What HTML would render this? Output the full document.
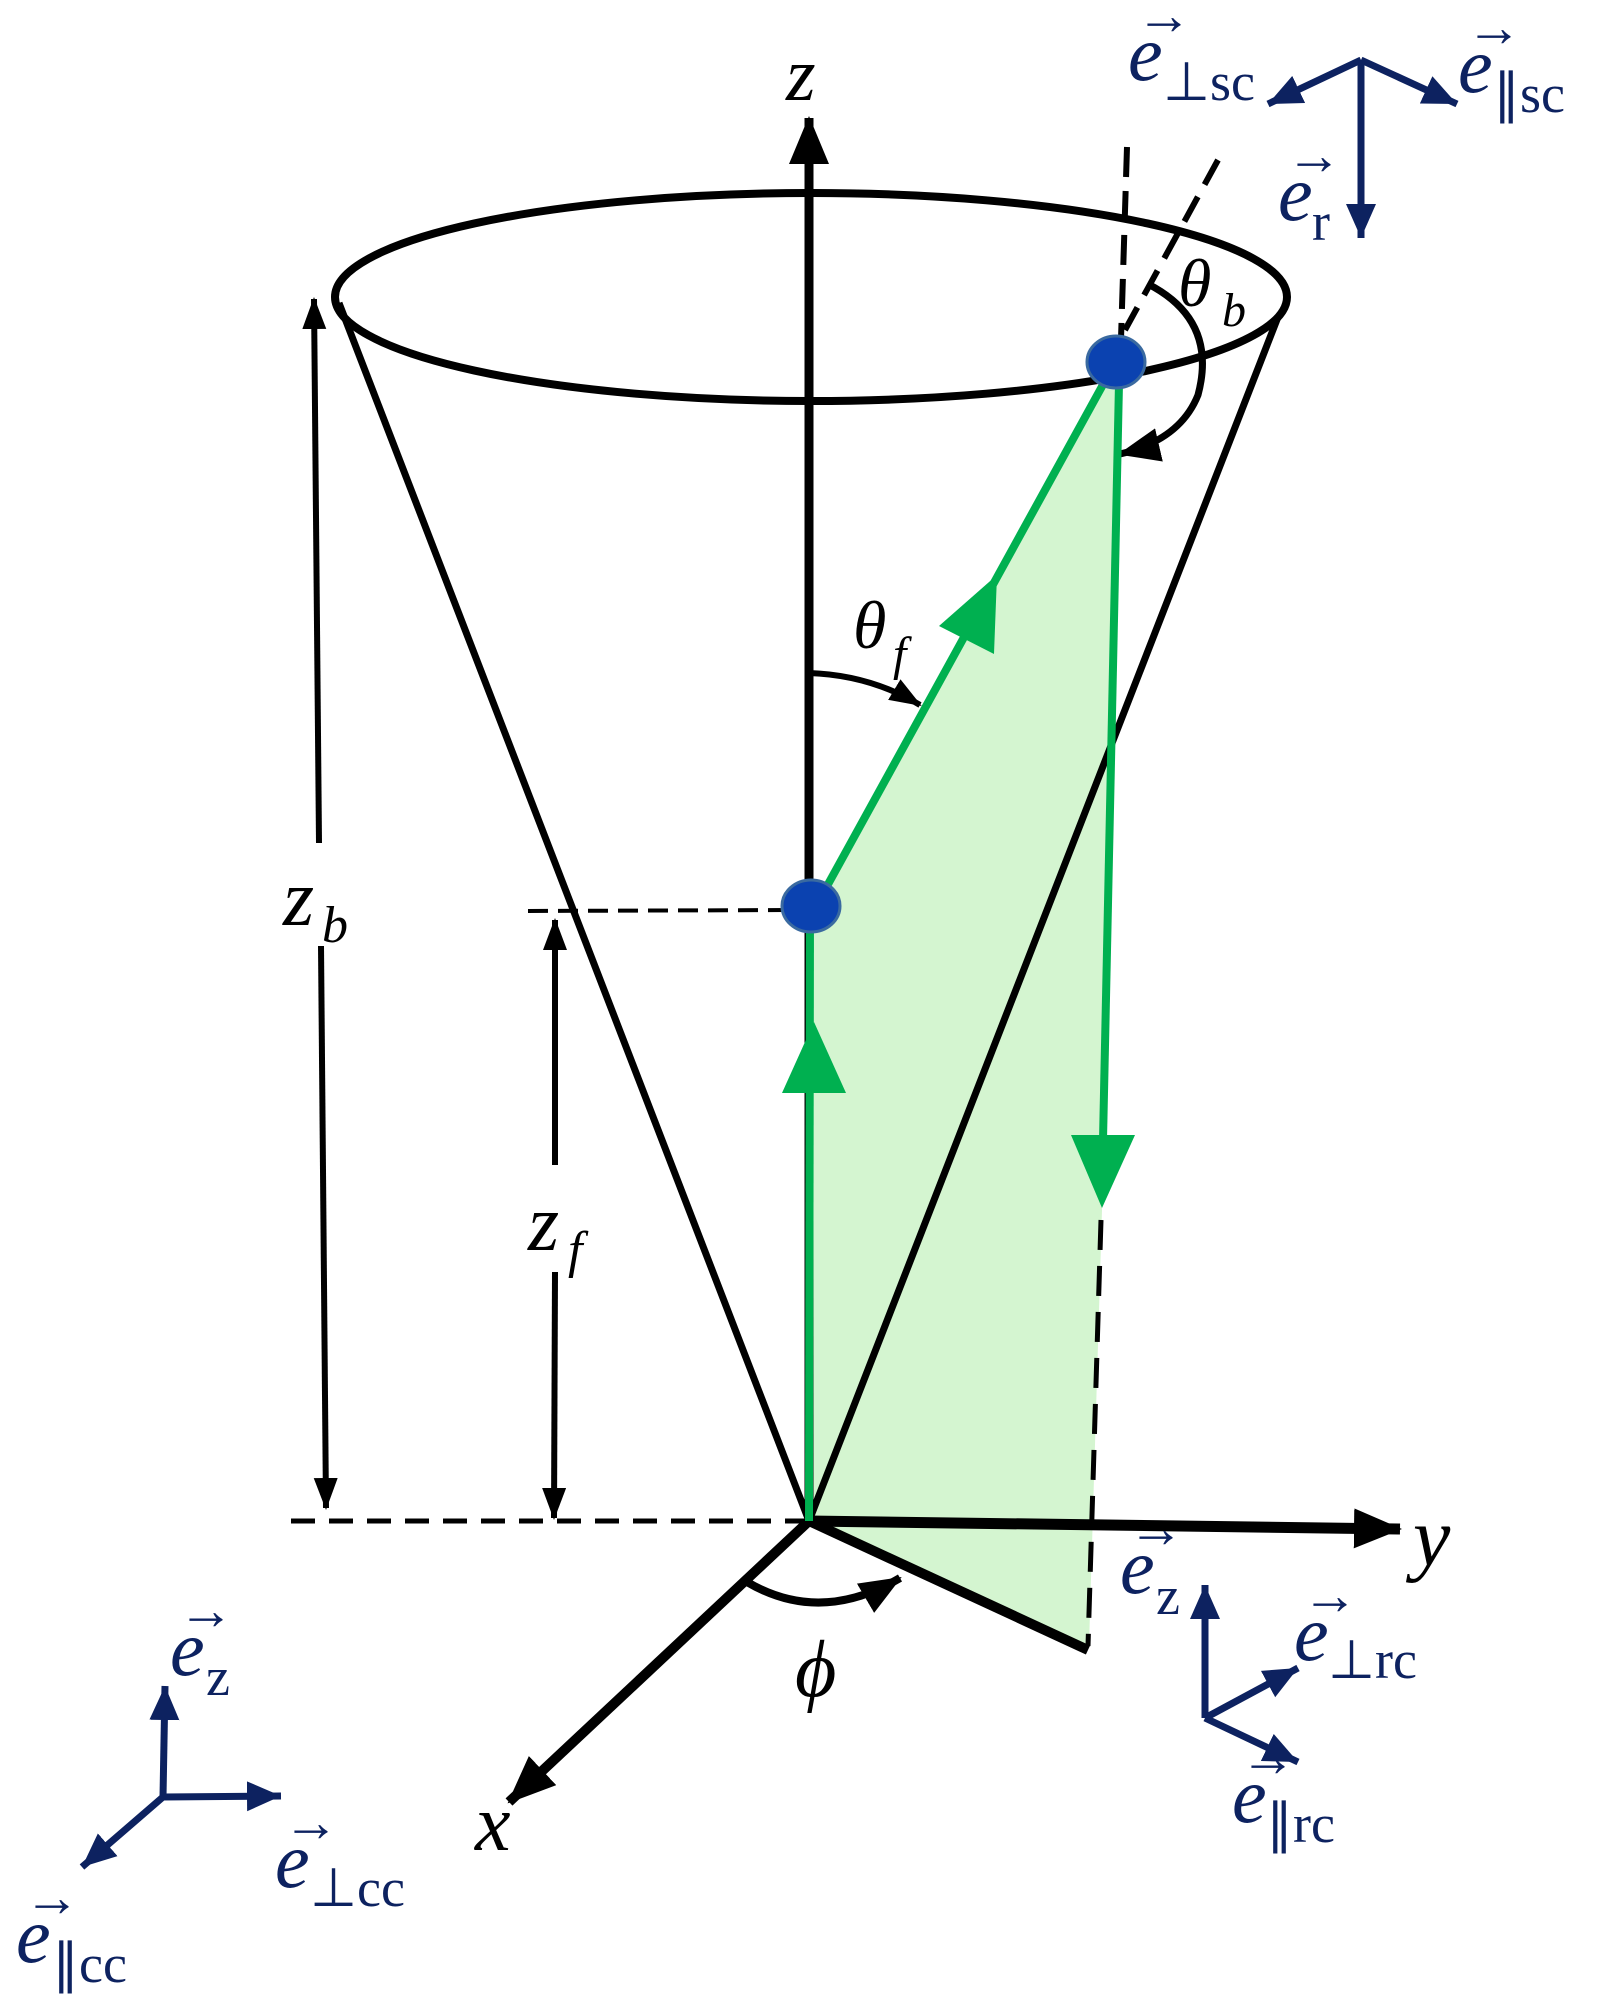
<!DOCTYPE html>
<html><head><meta charset="utf-8"><style>
html,body{margin:0;padding:0;background:#fff}
svg{display:block}
.it{font-family:"Liberation Serif",serif;font-style:italic}
.rm{font-family:"Liberation Serif",serif}
</style></head><body>
<svg width="1597" height="2003" viewBox="0 0 1597 2003" xmlns="http://www.w3.org/2000/svg">
<defs>
<marker id="ab" markerUnits="userSpaceOnUse" markerWidth="52" markerHeight="44" refX="46" refY="20" orient="auto"><path d="M0,0 L48,20 L0,40 Z" fill="#000"/></marker>
<marker id="abs" markerUnits="userSpaceOnUse" markerWidth="36" markerHeight="30" refX="30" refY="12" orient="auto"><path d="M0,0 L32,12 L0,24 Z" fill="#000"/></marker>
<marker id="abb" markerUnits="userSpaceOnUse" markerWidth="46" markerHeight="40" refX="40" refY="17" orient="auto"><path d="M0,0 L42,17 L0,34 Z" fill="#000"/></marker>
<marker id="an" markerUnits="userSpaceOnUse" markerWidth="40" markerHeight="36" refX="34" refY="15" orient="auto"><path d="M0,0 L34,15 L0,30 Z" fill="#0d2260"/></marker>
</defs>
<!-- green fill -->
<polygon points="809,1521 811,906 1116,360 1102,1210 1089,1646" fill="#d4f5d0"/>
<!-- ellipse -->
<ellipse cx="811" cy="297" rx="476" ry="104" fill="none" stroke="#000" stroke-width="8"/>
<!-- cone sides -->
<line x1="339" y1="303" x2="809" y2="1521" stroke="#000" stroke-width="7"/>
<line x1="1278" y1="317" x2="809" y2="1521" stroke="#000" stroke-width="7"/>
<!-- z axis -->
<line x1="809" y1="1521" x2="809" y2="118" stroke="#000" stroke-width="9" marker-end="url(#ab)"/>
<!-- y axis -->
<line x1="809" y1="1521" x2="1400" y2="1529" stroke="#000" stroke-width="11" marker-end="url(#ab)"/>
<!-- x axis -->
<line x1="809" y1="1521" x2="509" y2="1802" stroke="#000" stroke-width="10" marker-end="url(#ab)"/>
<!-- foot line -->
<line x1="809" y1="1521" x2="1088" y2="1650" stroke="#000" stroke-width="10"/>
<!-- dashed -->
<line x1="291" y1="1521" x2="805" y2="1521" stroke="#000" stroke-width="5" stroke-dasharray="24,14"/>
<line x1="528" y1="911" x2="790" y2="910" stroke="#000" stroke-width="4" stroke-dasharray="20,10"/>
<line x1="1101" y1="1220" x2="1088" y2="1646" stroke="#000" stroke-width="5" stroke-dasharray="30,16"/>
<line x1="1127" y1="147" x2="1121" y2="339" stroke="#000" stroke-width="6" stroke-dasharray="30,14"/>
<line x1="1218" y1="160" x2="1125" y2="330" stroke="#000" stroke-width="6" stroke-dasharray="28,14"/>
<!-- phi arc -->
<path d="M747,1582 Q820,1625 900,1578" fill="none" stroke="#000" stroke-width="8" marker-end="url(#abb)"/>
<!-- theta_f arc -->
<path d="M809,673 Q870,675 920,705" fill="none" stroke="#000" stroke-width="6" marker-end="url(#abs)"/>
<!-- theta_b arc -->
<path d="M1148,284 Q1218,320 1198,395 Q1180,440 1120,454" fill="none" stroke="#000" stroke-width="7" marker-end="url(#abb)"/>
<!-- green lines -->
<line x1="809" y1="1521" x2="810" y2="906" stroke="#00b050" stroke-width="8"/>
<polygon points="814,1022 782,1093 846,1093" fill="#00b050"/>
<line x1="826" y1="888" x2="1105" y2="381" stroke="#00b050" stroke-width="8"/>
<polygon points="997,575 939,626 994,654" fill="#00b050"/>
<line x1="1119" y1="383" x2="1103" y2="1140" stroke="#00b050" stroke-width="8"/>
<polygon points="1102,1208 1071,1135 1135,1135" fill="#00b050"/>
<!-- dots -->
<ellipse cx="811" cy="906" rx="29" ry="26" fill="#0b42b0" stroke="#3a6aa0" stroke-width="3"/>
<ellipse cx="1116" cy="362" rx="29" ry="26" fill="#0b42b0" stroke="#3a6aa0" stroke-width="3"/>
<!-- z_b arrow -->
<line x1="319" y1="843" x2="314" y2="299" stroke="#000" stroke-width="6" marker-end="url(#abs)"/>
<line x1="321" y1="946" x2="326" y2="1508" stroke="#000" stroke-width="6" marker-end="url(#abs)"/>
<!-- z_f arrow -->
<line x1="555" y1="1165" x2="555" y2="920" stroke="#000" stroke-width="6" marker-end="url(#abs)"/>
<line x1="555" y1="1272" x2="554" y2="1518" stroke="#000" stroke-width="6" marker-end="url(#abs)"/>
<!-- black labels -->
<text class="it" x="786" y="100" font-size="76">z</text>
<text class="it" x="853" y="648" font-size="68">θ</text><text class="it" x="893" y="670" font-size="48">f</text>
<text class="it" x="1178" y="306" font-size="68">θ</text><text class="it" x="1222" y="326" font-size="48">b</text>
<text class="it" x="283" y="925" font-size="80">z</text><text class="it" x="322" y="942" font-size="52">b</text>
<text class="it" x="528" y="1250" font-size="80">z</text><text class="it" x="568" y="1267" font-size="52">f</text>
<text class="it" x="795" y="1696" font-size="80">ϕ</text>
<text class="it" x="475" y="1850" font-size="80">x</text>
<text class="it" x="1413" y="1565" font-size="84">y</text>
<!-- navy frames -->
<g stroke="#0d2260" stroke-width="7" fill="none">
<line x1="1361" y1="60" x2="1268" y2="104" marker-end="url(#an)"/>
<line x1="1361" y1="60" x2="1457" y2="104" marker-end="url(#an)"/>
<line x1="1361" y1="60" x2="1361" y2="238" marker-end="url(#an)"/>
<line x1="1205" y1="1718" x2="1205" y2="1585" marker-end="url(#an)"/>
<line x1="1205" y1="1718" x2="1298" y2="1668" marker-end="url(#an)"/>
<line x1="1205" y1="1718" x2="1298" y2="1762" marker-end="url(#an)"/>
<line x1="163" y1="1797" x2="165" y2="1686" marker-end="url(#an)"/>
<line x1="163" y1="1797" x2="281" y2="1796" marker-end="url(#an)"/>
<line x1="163" y1="1797" x2="82" y2="1867" marker-end="url(#an)"/>
</g>
<g fill="#0d2260">
<text class="it" x="1128" y="80" font-size="78">e</text><text class="rm" x="1136" y="34" font-size="56">→</text><text class="rm" x="1163" y="100" font-size="54">⊥sc</text>
<text class="it" x="1458" y="92" font-size="78">e</text><text class="rm" x="1466" y="46" font-size="56">→</text><text class="rm" x="1493" y="112" font-size="54">∥sc</text>
<text class="it" x="1278" y="220" font-size="78">e</text><text class="rm" x="1286" y="174" font-size="56">→</text><text class="rm" x="1312" y="240" font-size="54">r</text>
<text class="it" x="1120" y="1593" font-size="78">e</text><text class="rm" x="1128" y="1547" font-size="56">→</text><text class="rm" x="1156" y="1614" font-size="54">z</text>
<text class="it" x="1294" y="1660" font-size="78">e</text><text class="rm" x="1302" y="1614" font-size="56">→</text><text class="rm" x="1328" y="1678" font-size="54">⊥rc</text>
<text class="it" x="1232" y="1822" font-size="78">e</text><text class="rm" x="1240" y="1776" font-size="56">→</text><text class="rm" x="1266" y="1842" font-size="54">∥rc</text>
<text class="it" x="170" y="1675" font-size="78">e</text><text class="rm" x="178" y="1629" font-size="56">→</text><text class="rm" x="206" y="1695" font-size="54">z</text>
<text class="it" x="275" y="1887" font-size="78">e</text><text class="rm" x="283" y="1841" font-size="56">→</text><text class="rm" x="310" y="1906" font-size="54">⊥cc</text>
<text class="it" x="16" y="1962" font-size="78">e</text><text class="rm" x="24" y="1916" font-size="56">→</text><text class="rm" x="52" y="1982" font-size="54">∥cc</text>
</g>
</svg>
</body></html>
